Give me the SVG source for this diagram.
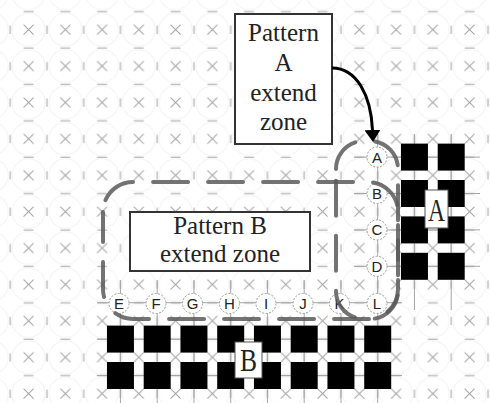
<svg xmlns="http://www.w3.org/2000/svg" width="490" height="403" viewBox="0 0 490 403">
<defs>
<pattern id="bgc" patternUnits="userSpaceOnUse" x="10.2" y="11.5" width="36.75" height="36.4">
<circle cx="18.375" cy="18.2" r="16.5" fill="none" stroke="#f3f3f3" stroke-width="1"/>
</pattern>
<pattern id="grid" patternUnits="userSpaceOnUse" x="1.2" y="2.5" width="36.75" height="36.4">
<path d="M22.4,9H32.4M9,23V31.4M22.4,22.2L32.4,32.2M32.4,22.2L22.4,32.2" fill="none" stroke="#a2a2a2" stroke-width="1"/>
</pattern>
<marker id="ah" viewBox="0 0 12 16" refX="0" refY="8" markerWidth="12" markerHeight="16" markerUnits="userSpaceOnUse" orient="auto">
<path d="M0,0L12,8L0,16z" fill="#000"/>
</marker>
<style>
.sq{fill:#000}
.zone{fill:none;stroke:#5a5a5a;stroke-width:4;stroke-dasharray:35 20;stroke-linecap:round;opacity:0.85}
.lat{fill:none;stroke:#a5a5a5;stroke-width:1}
.lc{fill:#fff;stroke:#9a9a9a;stroke-width:1;stroke-dasharray:2 1.5}
.lt{font-family:"Liberation Sans",Arial,sans-serif;font-size:15px;fill:#222;text-anchor:middle;dominant-baseline:central}
.box{fill:#fff;stroke:#333;stroke-width:2}
.bt{font-family:"Liberation Serif","Times New Roman",serif;font-size:25px;fill:#222;text-anchor:middle}
.lb{fill:#fff;stroke:#555;stroke-width:1}
.bl{font-family:"Liberation Serif","Times New Roman",serif;font-size:32px;fill:#222;text-anchor:middle}
</style>
</defs>
<rect width="490" height="403" fill="#fff"/>
<rect width="490" height="403" fill="url(#bgc)"/>
<rect width="490" height="403" fill="url(#grid)"/>

<g id="dense-grid" class="lat">
<path d="M97,302.7H402M97,339.1H402M97,375.5H402M120.45,280V403M157.2,280V403M193.95,280V403M230.7,280V403M267.45,280V403M304.2,280V403M340.95,280V403M377.7,280V403"/>
<path d="M354,157.1H480M354,193.5H480M354,229.9H480M354,266.3H480M377.7,134V303M414.45,134V310M451.2,134V310"/>
</g>

<g id="pattern-A">
<rect class="sq" x="400.95" y="143.6" width="27" height="27"/>
<rect class="sq" x="437.7" y="143.6" width="27" height="27"/>
<rect class="sq" x="400.95" y="180" width="27" height="27"/>
<rect class="sq" x="437.7" y="180" width="27" height="27"/>
<rect class="sq" x="400.95" y="216.4" width="27" height="27"/>
<rect class="sq" x="437.7" y="216.4" width="27" height="27"/>
<rect class="sq" x="400.95" y="252.8" width="27" height="27"/>
<rect class="sq" x="437.7" y="252.8" width="27" height="27"/>
<rect class="lb" x="425" y="190" width="23" height="38"/>
<text class="bl" x="436.5" y="221" textLength="17" lengthAdjust="spacingAndGlyphs">A</text>
</g>

<g id="pattern-B">
<rect class="sq" x="106.95" y="325.6" width="27" height="27"/>
<rect class="sq" x="143.7" y="325.6" width="27" height="27"/>
<rect class="sq" x="180.45" y="325.6" width="27" height="27"/>
<rect class="sq" x="217.2" y="325.6" width="27" height="27"/>
<rect class="sq" x="253.95" y="325.6" width="27" height="27"/>
<rect class="sq" x="290.7" y="325.6" width="27" height="27"/>
<rect class="sq" x="327.45" y="325.6" width="27" height="27"/>
<rect class="sq" x="364.2" y="325.6" width="27" height="27"/>
<rect class="sq" x="106.95" y="362" width="27" height="27"/>
<rect class="sq" x="143.7" y="362" width="27" height="27"/>
<rect class="sq" x="180.45" y="362" width="27" height="27"/>
<rect class="sq" x="217.2" y="362" width="27" height="27"/>
<rect class="sq" x="253.95" y="362" width="27" height="27"/>
<rect class="sq" x="290.7" y="362" width="27" height="27"/>
<rect class="sq" x="327.45" y="362" width="27" height="27"/>
<rect class="sq" x="364.2" y="362" width="27" height="27"/>
<rect class="lb" x="235" y="342" width="27" height="36"/>
<text class="bl" x="248.5" y="371" textLength="17" lengthAdjust="spacingAndGlyphs">B</text>
</g>

<g id="circles">
<g id="c-A"><circle class="lc" cx="377" cy="157.1" r="10"/><text class="lt" x="377" y="157.1">A</text></g>
<g id="c-B"><circle class="lc" cx="377" cy="193.5" r="10"/><text class="lt" x="377" y="193.5">B</text></g>
<g id="c-C"><circle class="lc" cx="377" cy="229.9" r="10"/><text class="lt" x="377" y="229.9">C</text></g>
<g id="c-D"><circle class="lc" cx="377" cy="266.3" r="10"/><text class="lt" x="377" y="266.3">D</text></g>
<g id="c-E"><circle class="lc" cx="119" cy="303.5" r="10"/><text class="lt" x="119" y="303.5">E</text></g>
<g id="c-F"><circle class="lc" cx="156" cy="303.5" r="10"/><text class="lt" x="156" y="303.5">F</text></g>
<g id="c-G"><circle class="lc" cx="192.5" cy="303.5" r="10"/><text class="lt" x="192.5" y="303.5">G</text></g>
<g id="c-H"><circle class="lc" cx="229.5" cy="303.5" r="10"/><text class="lt" x="229.5" y="303.5">H</text></g>
<g id="c-I"><circle class="lc" cx="266" cy="303.5" r="10"/><text class="lt" x="266" y="303.5">I</text></g>
<g id="c-J"><circle class="lc" cx="303" cy="303.5" r="10"/><text class="lt" x="303" y="303.5">J</text></g>
<g id="c-K"><circle class="lc" cx="339.5" cy="303.5" r="10"/><text class="lt" x="339.5" y="303.5">K</text></g>
<g id="c-L"><circle class="lc" cx="377" cy="303.5" r="10"/><text class="lt" x="377" y="303.5">L</text></g>
</g>

<g id="zone-B">
<path class="zone" style="stroke-dashoffset:42.9" d="M103,212A30,30 0 0 1 133,182H368A30,30 0 0 1 398,212V289A30,30 0 0 1 368,319H133A30,30 0 0 1 103,289Z"/>
</g>
<g id="zone-A">
<path class="zone" d="M336,169A28,28 0 0 1 364,141H370A28,28 0 0 1 398,169V291A28,28 0 0 1 370,319H364A28,28 0 0 1 336,291Z"/>
</g>

<g id="box-A">
<rect class="box" x="235" y="14" width="97" height="130"/>
<text class="bt" x="283.5" y="41">Pattern</text>
<text class="bt" x="283.5" y="71">A</text>
<text class="bt" x="283.5" y="101">extend</text>
<text class="bt" x="283.5" y="130">zone</text>
</g>
<g id="box-B">
<rect class="box" x="130" y="212" width="180" height="59"/>
<text class="bt" x="220" y="234">Pattern B</text>
<text class="bt" x="220" y="262">extend zone</text>
</g>

<g id="connectors">
<path d="M332,68C357,68 371,96 372.5,130" fill="none" stroke="#000" stroke-width="3" marker-end="url(#ah)"/>
</g>
</svg>
